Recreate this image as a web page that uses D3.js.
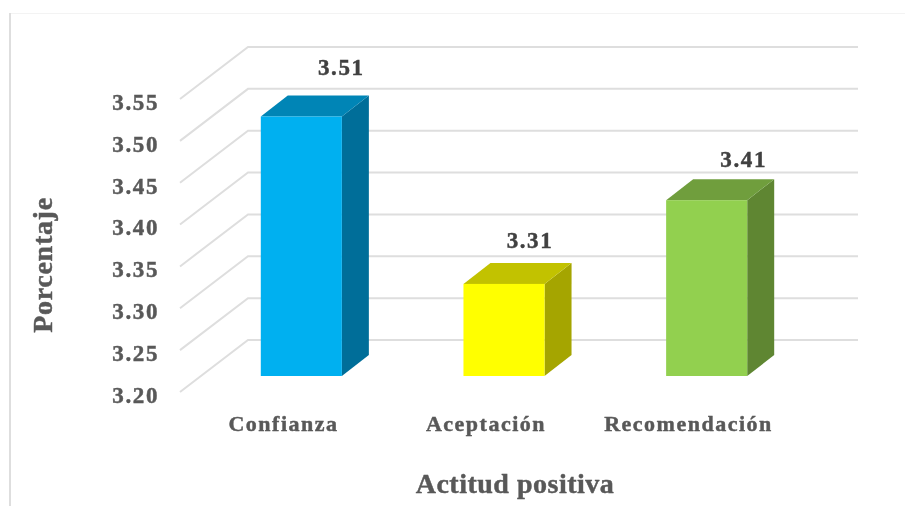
<!DOCTYPE html>
<html><head><meta charset="utf-8">
<script src="https://cdn.jsdelivr.net/npm/d3@7"></script>
<style>html,body{margin:0;background:#fff}svg{display:block}text{font-family:"Liberation Serif",serif;font-weight:700;stroke-width:0.45px;paint-order:stroke}</style>
</head><body><svg id="c" width="905" height="506"></svg>
<script>
const categories = ["Confianza","Aceptación","Recomendación"];
const values = [3.51,3.31,3.41];
const tickValues = [3.20,3.25,3.30,3.35,3.40,3.45,3.50,3.55];
const frontColors = ["#00B0F0","#FFFF00","#92D050"];
const topColors = ["#0085B6","#C2C200","#6F9E3D"];
const sideColors = ["#006E99","#A5A500","#5E8632"];
const labelShift = [[40,-49],[26,-44],[37,-41]];

const svg = d3.select("#c");
const y = d3.scaleLinear().domain([3.20,3.55]).range([340,47]);
const x = d3.scaleBand().domain(categories).range([200,808]).paddingInner(0.6).paddingOuter(0.3);
const wallL=248, wallR=858, floorDx=-68, floorDy=52;
const barDx=27, barDy=-21, barOffY=36;
const fontCss='"Liberation Serif",serif';

svg.append("defs").append("filter").attr("id","soft").attr("x","-5%").attr("y","-5%").attr("width","110%").attr("height","110%")
  .append("feGaussianBlur").attr("stdDeviation",0.45);
const root = svg.append("g").attr("filter","url(#soft)");

root.append("path").attr("d","M10.5,506V13.5H905").attr("fill","none").attr("stroke","#f3f3f3").attr("stroke-width",1);
root.append("line").attr("x1",10).attr("x2",10).attr("y1",13).attr("y2",506).attr("stroke","#dedede").attr("stroke-width",2);

const grid = root.append("g").attr("fill","none").attr("stroke","#dedede").attr("stroke-width",2);
tickValues.forEach(t=>{
  grid.append("path").attr("d",d3.line()([[wallL+floorDx,y(t)+floorDy],[wallL,y(t)],[wallR,y(t)]]));
});

categories.forEach((c,i)=>{
  const bx=x(c), w=x.bandwidth(), b=y(3.20)+barOffY, t=y(values[i])+barOffY;
  const g=root.append("g");
  g.append("path").attr("fill",sideColors[i]).attr("d",d3.line()([[bx+w,t],[bx+w+barDx,t+barDy],[bx+w+barDx,b+barDy],[bx+w,b]])+"Z");
  g.append("path").attr("fill",topColors[i]).attr("d",d3.line()([[bx,t],[bx+barDx,t+barDy],[bx+w+barDx,t+barDy],[bx+w,t]])+"Z");
  g.append("rect").attr("x",bx).attr("y",t).attr("width",w).attr("height",b-t).attr("fill",frontColors[i]);
  root.append("text").text(values[i].toFixed(2)).attr("x",bx+w/2+labelShift[i][0]).attr("y",t+labelShift[i][1]+8)
    .attr("text-anchor","middle").attr("font-size",23).attr("letter-spacing",1.6).attr("fill","#404040").attr("stroke","#404040");
});

const ay = root.append("g").attr("transform",`translate(159,${floorDy+3})`)
  .call(d3.axisLeft(y).tickValues(tickValues).tickFormat(d3.format(".2f")).tickSize(0).tickPadding(0));
ay.select(".domain").remove();
ay.selectAll("text").attr("font-size",23).attr("letter-spacing",1.6).attr("fill","#595959").attr("stroke","#595959").style("font-family",fontCss).style("font-weight",700);

const xLab = d3.scalePoint().domain(categories).range([283,688]);
const ax = root.append("g").attr("transform","translate(0,416)")
  .call(d3.axisBottom(xLab).tickSize(0).tickPadding(0));
ax.select(".domain").remove();
ax.selectAll("text").attr("font-size",22).attr("letter-spacing",1.5).attr("fill","#595959").attr("stroke","#595959").attr("dy","0.7em").style("font-family",fontCss).style("font-weight",700);

root.append("text").text("Porcentaje").attr("transform","translate(52,265) rotate(-90)").attr("text-anchor","middle").attr("font-size",28).attr("letter-spacing",0.7).attr("fill","#595959").attr("stroke","#595959");
root.append("text").text("Actitud positiva").attr("x",515).attr("y",493).attr("text-anchor","middle").attr("font-size",28).attr("letter-spacing",0.5).attr("fill","#595959").attr("stroke","#595959");
</script></body></html>
